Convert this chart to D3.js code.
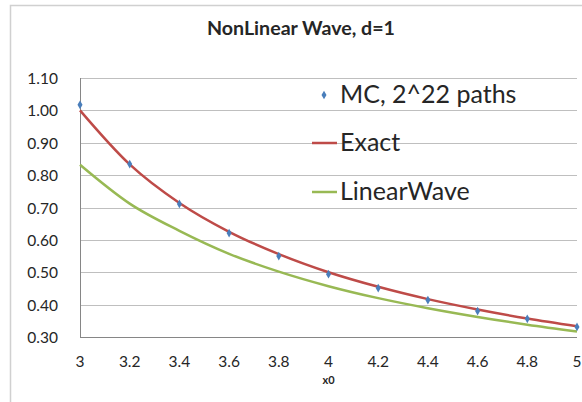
<!DOCTYPE html>
<html lang="en">
<head>
    <meta charset="utf-8" />
    <title>NonLinear Wave</title>
    <style>
        body {
            margin: 0;
            background-color: white;
            font-family: Lato, 'Open Sans', sans-serif;
        }

        .grid line {
            stroke: #bfbfbf;
            stroke-width: 1px;
        }

        .axis line, .axis path {
            stroke: #868686;
            stroke-width: 1px;
        }

        text {
            fill: #262626;
        }

        text.tick-label {
            font-size: 15.5px;
        }

        text.title {
            font-size: 19px;
            font-weight: bold;
            text-anchor: middle;
        }

        text.legend {
            font-size: 25px;
        }
    </style>
    <script src="https://d3js.org/d3.v7.min.js"></script>
</head>
<body>
    <svg id="vis" width="582" height="402"></svg>
    <script type="text/javascript">
        // values
        var xValues = [3, 3.2, 3.4, 3.6, 3.8, 4, 4.2, 4.4, 4.6, 4.8, 5];
        var mcValues = [1.017, 0.834, 0.711, 0.621, 0.550, 0.494, 0.451, 0.414, 0.380, 0.356, 0.331];
        var exactValues = [1.000, 0.833, 0.714, 0.625, 0.556, 0.500, 0.455, 0.417, 0.385, 0.357, 0.333];
        var linearValues = [0.832, 0.712, 0.628, 0.557, 0.502, 0.457, 0.420, 0.389, 0.362, 0.338, 0.317];

        var yTicks = [0.30, 0.40, 0.50, 0.60, 0.70, 0.80, 0.90, 1.00, 1.10];
        var xTicks = [3, 3.2, 3.4, 3.6, 3.8, 4, 4.2, 4.4, 4.6, 4.8, 5];
        var seriesNames = ["MC, 2^22 paths", "Exact", "LinearWave"];

        var colors = { mc: "#4a7ebb", exact: "#be4b48", linear: "#98b954" };

        var plot = { left: 80, right: 577, top: 78, bottom: 337 };

        var svg = d3.select("#vis");

        // chart frame
        svg.append("rect").attr("x", 10.5).attr("y", 5.5).attr("width", 600).attr("height", 420)
            .attr("fill", "white").attr("stroke", "#d0d0d0").attr("stroke-width", 1.5);

        svg.append("text").attr("class", "title").attr("x", 301).attr("y", 35)
            .attr("textLength", 188).attr("lengthAdjust", "spacingAndGlyphs")
            .text("NonLinear Wave, d=1");

        var x = d3.scaleLinear().domain([3, 5]).range([plot.left, plot.right]);
        var y = d3.scaleLinear().domain([0.3, 1.1]).range([plot.bottom, plot.top]);

        // horizontal gridlines
        svg.append("g").attr("class", "grid").selectAll("line").data(yTicks.slice(1))
            .enter().append("line")
            .attr("x1", plot.left).attr("x2", plot.right)
            .attr("y1", function (d) { return Math.round(y(d)) + 0.5; })
            .attr("y2", function (d) { return Math.round(y(d)) + 0.5; });

        // axes lines
        var axes = svg.append("g").attr("class", "axis");
        axes.append("line").attr("x1", plot.left + 0.5).attr("x2", plot.left + 0.5)
            .attr("y1", plot.top).attr("y2", plot.bottom + 0.5);
        axes.append("line").attr("x1", plot.left).attr("x2", plot.right)
            .attr("y1", plot.bottom + 0.5).attr("y2", plot.bottom + 0.5);

        // tick labels
        svg.append("g").selectAll("text").data(yTicks).enter().append("text")
            .attr("class", "tick-label").attr("text-anchor", "end").attr("dominant-baseline", "central")
            .attr("x", 58).attr("y", function (d) { return y(d); })
            .text(function (d) { return d3.format(".2f")(d); });

        svg.append("g").selectAll("text").data(xTicks).enter().append("text")
            .attr("class", "tick-label").attr("text-anchor", "middle").attr("dominant-baseline", "central")
            .attr("x", function (d) { return x(d); }).attr("y", 361)
            .text(function (d) { return d; });

        svg.append("text").attr("x", x(4)).attr("y", 384).attr("text-anchor", "middle")
            .attr("font-size", 11).attr("font-weight", "bold").text("x0");

        // series
        var line = d3.line()
            .x(function (d, i) { return x(xValues[i]); })
            .y(function (d) { return y(d); })
            .curve(d3.curveCardinal.tension(0));

        svg.append("path").datum(linearValues).attr("d", line)
            .attr("fill", "none").attr("stroke", colors.linear).attr("stroke-width", 2.5);

        svg.append("path").datum(exactValues).attr("d", line)
            .attr("fill", "none").attr("stroke", colors.exact).attr("stroke-width", 2.5);

        var diamond = d3.symbol().type(d3.symbolDiamond).size(22);

        svg.append("g").selectAll("path").data(mcValues).enter().append("path")
            .attr("d", diamond)
            .attr("transform", function (d, i) { return "translate(" + x(xValues[i]) + "," + y(d) + ")"; })
            .attr("fill", colors.mc);

        // legend
        var legend = svg.append("g").attr("class", "legend-g");
        var legendY = [95, 143, 192];

        legend.append("path").attr("d", diamond).attr("fill", colors.mc)
            .attr("transform", "translate(324," + legendY[0] + ")");
        legend.append("line").attr("x1", 312).attr("x2", 337).attr("y1", legendY[1]).attr("y2", legendY[1])
            .attr("stroke", colors.exact).attr("stroke-width", 2.5);
        legend.append("line").attr("x1", 312).attr("x2", 337).attr("y1", legendY[2]).attr("y2", legendY[2])
            .attr("stroke", colors.linear).attr("stroke-width", 2.5);

        legend.selectAll("text").data(seriesNames).enter().append("text")
            .attr("class", "legend").attr("x", 340)
            .attr("y", function (d, i) { return legendY[i] + 8; })
            .text(function (d) { return d; });
    </script>
</body>
</html>
